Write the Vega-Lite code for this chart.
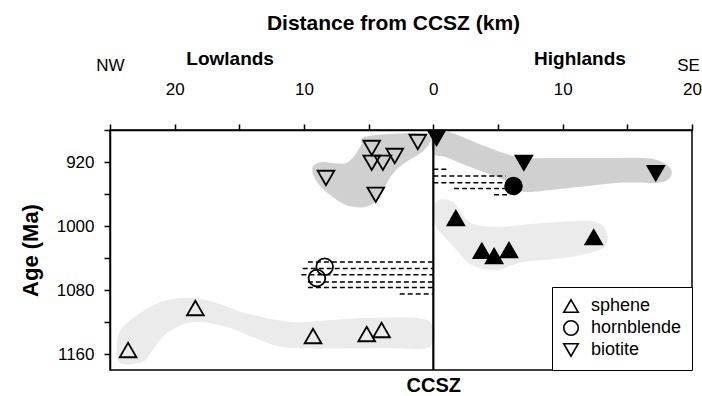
{
  "$schema": "https://vega.github.io/schema/vega-lite/v6.json",
  "width": 582,
  "height": 240,
  "autosize": {"type": "none"},
  "padding": {"left": 110, "top": 130, "right": 10, "bottom": 26},
  "background": "white",
  "config": {
    "view": {"stroke": "black", "strokeWidth": 1.5},
    "font": "Liberation Sans",
    "axis": {
      "domainColor": "black", "tickColor": "black", "labelColor": "black", "titleColor": "black",
      "grid": false, "labelFont": "Liberation Sans", "titleFont": "Liberation Sans",
      "domainWidth": 1.5, "tickWidth": 1.5
    },
    "legend": {
      "title": null, "orient": "bottom-right", "offset": 0,
      "strokeColor": "black", "fillColor": "white", "padding": 10,
      "symbolSize": 210, "symbolStrokeWidth": 1.6, "symbolStrokeColor": "black", "symbolFillColor": "white",
      "labelFontSize": 18, "labelFont": "Liberation Sans", "labelColor": "black",
      "rowPadding": 1, "labelOffset": 11
    }
  },
  "datasets": {
    "points": [
      {"dist": -4.76, "age": 902.5, "mineral": "biotite", "style": "open"},
      {"dist": -1.2, "age": 895, "mineral": "biotite", "style": "open"},
      {"dist": -2.98, "age": 912.5, "mineral": "biotite", "style": "open"},
      {"dist": -4.76, "age": 921, "mineral": "biotite", "style": "open"},
      {"dist": -3.9, "age": 921, "mineral": "biotite", "style": "open"},
      {"dist": -8.3, "age": 940, "mineral": "biotite", "style": "open"},
      {"dist": -4.45, "age": 961, "mineral": "biotite", "style": "open"},
      {"dist": 0.25, "age": 890, "mineral": "biotite", "style": "filled"},
      {"dist": 7.0, "age": 921, "mineral": "biotite", "style": "filled"},
      {"dist": 17.2, "age": 934, "mineral": "biotite", "style": "filled"},
      {"dist": 6.2, "age": 950, "mineral": "hornblende", "style": "filled"},
      {"dist": -8.4, "age": 1051, "mineral": "hornblende", "style": "open"},
      {"dist": -9.0, "age": 1065, "mineral": "hornblende", "style": "open"},
      {"dist": 1.74, "age": 990, "mineral": "sphene", "style": "filled"},
      {"dist": 3.75, "age": 1031, "mineral": "sphene", "style": "filled"},
      {"dist": 4.7, "age": 1037.5, "mineral": "sphene", "style": "filled"},
      {"dist": 5.85, "age": 1030, "mineral": "sphene", "style": "filled"},
      {"dist": 12.4, "age": 1014, "mineral": "sphene", "style": "filled"},
      {"dist": -23.6, "age": 1155, "mineral": "sphene", "style": "open"},
      {"dist": -18.4, "age": 1102.5, "mineral": "sphene", "style": "open"},
      {"dist": -9.3, "age": 1137.5, "mineral": "sphene", "style": "open"},
      {"dist": -5.15, "age": 1135, "mineral": "sphene", "style": "open"},
      {"dist": -4.0, "age": 1130, "mineral": "sphene", "style": "open"}
    ],
    "dense": [
      {"region": "lb", "i": 1, "dist": -9.35, "age": 927.5},
      {"region": "lb", "i": 2, "dist": -8.6, "age": 920},
      {"region": "lb", "i": 3, "dist": -6.7, "age": 921},
      {"region": "lb", "i": 4, "dist": -5.6, "age": 899},
      {"region": "lb", "i": 5, "dist": -5.5, "age": 890},
      {"region": "lb", "i": 6, "dist": -4.2, "age": 886},
      {"region": "lb", "i": 7, "dist": -1.9, "age": 884},
      {"region": "lb", "i": 8, "dist": -0.5, "age": 886},
      {"region": "lb", "i": 9, "dist": -0.15, "age": 892},
      {"region": "lb", "i": 10, "dist": -0.85, "age": 907.5},
      {"region": "lb", "i": 11, "dist": -2.1, "age": 920},
      {"region": "lb", "i": 12, "dist": -3.2, "age": 936},
      {"region": "lb", "i": 13, "dist": -4.2, "age": 964},
      {"region": "lb", "i": 14, "dist": -5.2, "age": 976},
      {"region": "lb", "i": 15, "dist": -6.7, "age": 974},
      {"region": "lb", "i": 16, "dist": -8.0, "age": 961},
      {"region": "lb", "i": 17, "dist": -9.0, "age": 945},
      {"region": "hb", "i": 1, "dist": 0, "age": 880},
      {"region": "hb", "i": 2, "dist": 1.5, "age": 884},
      {"region": "hb", "i": 3, "dist": 4.1, "age": 901},
      {"region": "hb", "i": 4, "dist": 6.6, "age": 914},
      {"region": "hb", "i": 5, "dist": 9.2, "age": 915},
      {"region": "hb", "i": 6, "dist": 13.1, "age": 915},
      {"region": "hb", "i": 7, "dist": 16.9, "age": 916},
      {"region": "hb", "i": 8, "dist": 18.4, "age": 930},
      {"region": "hb", "i": 9, "dist": 17.7, "age": 945},
      {"region": "hb", "i": 10, "dist": 14.4, "age": 946},
      {"region": "hb", "i": 11, "dist": 10.5, "age": 952.5},
      {"region": "hb", "i": 12, "dist": 7.2, "age": 957.5},
      {"region": "hb", "i": 13, "dist": 6.4, "age": 951},
      {"region": "hb", "i": 14, "dist": 5.1, "age": 940},
      {"region": "hb", "i": 15, "dist": 2.8, "age": 926},
      {"region": "hb", "i": 16, "dist": 1.0, "age": 914},
      {"region": "hb", "i": 17, "dist": 0, "age": 909}
    ],
    "sparse": [
      {"region": "hs", "i": 1, "dist": 0.2, "age": 970},
      {"region": "hs", "i": 2, "dist": 1.5, "age": 970},
      {"region": "hs", "i": 3, "dist": 2.8, "age": 995},
      {"region": "hs", "i": 4, "dist": 4.9, "age": 1001},
      {"region": "hs", "i": 5, "dist": 8.7, "age": 996},
      {"region": "hs", "i": 6, "dist": 12.3, "age": 994},
      {"region": "hs", "i": 7, "dist": 13.4, "age": 1007.5},
      {"region": "hs", "i": 8, "dist": 13.1, "age": 1027.5},
      {"region": "hs", "i": 9, "dist": 10.5, "age": 1039},
      {"region": "hs", "i": 10, "dist": 6.9, "age": 1045},
      {"region": "hs", "i": 11, "dist": 4.9, "age": 1055},
      {"region": "hs", "i": 12, "dist": 3.0, "age": 1049},
      {"region": "hs", "i": 13, "dist": 1.8, "age": 1030},
      {"region": "hs", "i": 14, "dist": 0.7, "age": 1011},
      {"region": "hs", "i": 15, "dist": 0.2, "age": 999},
      {"region": "ls", "i": 1, "dist": -24.3, "age": 1170},
      {"region": "ls", "i": 2, "dist": -24.3, "age": 1134},
      {"region": "ls", "i": 3, "dist": -22.7, "age": 1109},
      {"region": "ls", "i": 4, "dist": -20.6, "age": 1092.5},
      {"region": "ls", "i": 5, "dist": -18.6, "age": 1090},
      {"region": "ls", "i": 6, "dist": -16.8, "age": 1096},
      {"region": "ls", "i": 7, "dist": -14.5, "age": 1109},
      {"region": "ls", "i": 8, "dist": -10.9, "age": 1120},
      {"region": "ls", "i": 9, "dist": -7.8, "age": 1117.5},
      {"region": "ls", "i": 10, "dist": -5.2, "age": 1115},
      {"region": "ls", "i": 11, "dist": -0.5, "age": 1117.5},
      {"region": "ls", "i": 12, "dist": -0.3, "age": 1151},
      {"region": "ls", "i": 13, "dist": -3.9, "age": 1152.5},
      {"region": "ls", "i": 14, "dist": -10.9, "age": 1152.5},
      {"region": "ls", "i": 15, "dist": -13.4, "age": 1142.5},
      {"region": "ls", "i": 16, "dist": -16.0, "age": 1126},
      {"region": "ls", "i": 17, "dist": -18.6, "age": 1120},
      {"region": "ls", "i": 18, "dist": -20.6, "age": 1134},
      {"region": "ls", "i": 19, "dist": -21.7, "age": 1155},
      {"region": "ls", "i": 20, "dist": -22.5, "age": 1170}
    ],
    "dashes": [
      {"from": -9.7, "to": 0, "age": 1045},
      {"from": -10.1, "to": 0, "age": 1053},
      {"from": -10.2, "to": 0, "age": 1061},
      {"from": -9.7, "to": 0, "age": 1070},
      {"from": -9.7, "to": 0, "age": 1077},
      {"from": -2.6, "to": 0, "age": 1085},
      {"from": 0, "to": 1.2, "age": 929},
      {"from": 0, "to": 5.6, "age": 937.5},
      {"from": 0, "to": 5.9, "age": 946},
      {"from": 1.6, "to": 5.6, "age": 953},
      {"from": 4.7, "to": 5.8, "age": 961}
    ],
    "ccsz": [{"dist": 0}]
  },
  "layer": [
    {
      "data": {"name": "dense"},
      "mark": {"type": "line", "interpolate": "cardinal-closed", "fill": "#d0d0d0", "stroke": "transparent", "clip": true},
      "encoding": {
        "x": {"field": "dist", "type": "quantitative", "scale": {"domain": [-25, 20], "nice": false, "zero": false}, "axis": null},
        "y": {"field": "age", "type": "quantitative", "scale": {"domain": [880, 1180], "nice": false, "zero": false, "reverse": true}, "axis": null},
        "order": {"field": "i", "type": "quantitative"},
        "detail": {"field": "region", "type": "nominal"}
      }
    },
    {
      "data": {"name": "sparse"},
      "mark": {"type": "line", "interpolate": "cardinal-closed", "fill": "#ebebeb", "stroke": "transparent", "clip": true},
      "encoding": {
        "x": {"field": "dist", "type": "quantitative", "scale": {"domain": [-25, 20], "nice": false, "zero": false}, "axis": null},
        "y": {"field": "age", "type": "quantitative", "scale": {"domain": [880, 1180], "nice": false, "zero": false, "reverse": true}, "axis": null},
        "order": {"field": "i", "type": "quantitative"},
        "detail": {"field": "region", "type": "nominal"}
      }
    },
    {
      "data": {"name": "dashes"},
      "mark": {"type": "rule", "color": "black", "strokeWidth": 1.5, "strokeDash": [5, 3]},
      "encoding": {
        "x": {"field": "from", "type": "quantitative", "scale": {"domain": [-25, 20], "nice": false, "zero": false},
          "axis": {"orient": "bottom", "values": [0], "labelExpr": "'CCSZ'", "ticks": false, "domain": false, "title": null,
            "labelFontSize": 20, "labelFontWeight": "bold", "labelPadding": 5, "labelFlush": false}},
        "x2": {"field": "to"},
        "y": {"field": "age", "type": "quantitative", "scale": {"domain": [880, 1180], "nice": false, "zero": false, "reverse": true}, "axis": null}
      }
    },
    {
      "data": {"name": "ccsz"},
      "mark": {"type": "rule", "color": "black", "strokeWidth": 2.2},
      "encoding": {
        "x": {"field": "dist", "type": "quantitative", "scale": {"domain": [-25, 20], "nice": false, "zero": false},
          "axis": {"orient": "top", "offset": 56, "values": [-25, -15.75, 11.3, 19.7],
            "labelExpr": "datum.value < -20 ? 'NW' : datum.value < 0 ? 'Lowlands' : datum.value < 15 ? 'Highlands' : 'SE'",
            "ticks": false, "domain": false, "labelFlush": false, "labelOverlap": false,
            "labelFontWeight": {"condition": {"test": "abs(datum.value) < 19", "value": "bold"}, "value": "normal"},
            "labelFontSize": {"condition": {"test": "abs(datum.value) < 19", "value": 19}, "value": 17},
            "labelPadding": {"condition": {"test": "abs(datum.value) < 19", "value": 6}, "value": 0},
            "title": "Distance from CCSZ (km)", "titleFontSize": 21, "titleFontWeight": "bold", "titlePadding": 16, "titleX": 283}}
      }
    },
    {
      "data": {"name": "points"},
      "mark": {"type": "point", "filled": true, "size": 280, "strokeWidth": 1.8, "stroke": "black", "opacity": 1},
      "encoding": {
        "x": {"field": "dist", "type": "quantitative", "scale": {"domain": [-25, 20], "nice": false, "zero": false},
          "axis": {"orient": "top", "values": [-25, -20, -15, -10, -5, 0, 5, 10, 15, 20],
            "labelExpr": "datum.value % 10 === 0 ? format(abs(datum.value), 'd') : ''",
            "tickSize": 6, "labelPadding": 26, "labelFontSize": 17, "labelFlush": false, "labelOverlap": false, "title": null}},
        "y": {"field": "age", "type": "quantitative", "scale": {"domain": [880, 1180], "nice": false, "zero": false, "reverse": true},
          "axis": {"values": [880, 920, 960, 1000, 1040, 1080, 1120, 1160],
            "labelExpr": "(datum.value - 920) % 80 === 0 ? format(datum.value, 'd') : ''",
            "tickSize": 6, "labelPadding": 10, "labelFontSize": 17, "labelOverlap": false,
            "title": "Age (Ma)", "titleFontSize": 22, "titleFontWeight": "bold", "titlePadding": 14}},
        "shape": {"field": "mineral", "type": "nominal",
          "scale": {"domain": ["sphene", "hornblende", "biotite"], "range": ["triangle-up", "circle", "triangle-down"]}},
        "fill": {"field": "style", "type": "nominal",
          "scale": {"domain": ["filled", "open"], "range": ["black", "transparent"]}, "legend": null}
      }
    }
  ],
  "resolve": {"axis": {"x": "independent", "y": "independent"}}
}
